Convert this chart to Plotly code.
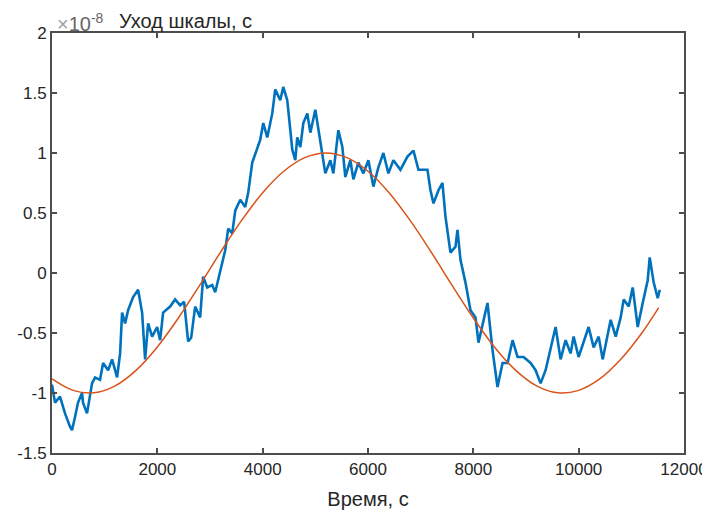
import plotly.graph_objects as go

# Blue measured series (time in s, value in units of 1e-8 s)
blue_t = [0, 57, 152, 247, 342, 380, 437, 494, 570, 589, 665, 722, 760, 817, 912, 970,
          1065, 1141, 1236, 1293, 1331, 1388, 1445, 1540, 1635, 1711, 1768, 1825, 1901,
          1996, 2053, 2110, 2243, 2338, 2433, 2509, 2585, 2642, 2718, 2813, 2870, 2946,
          3042, 3099, 3194, 3289, 3346, 3422, 3479, 3574, 3669, 3726, 3802, 3897, 3954,
          4011, 4087, 4182, 4239, 4334, 4391, 4467, 4524, 4562, 4619, 4657, 4715, 4772,
          4848, 4905, 5000, 5095, 5190, 5285, 5342, 5437, 5513, 5570, 5665, 5722, 5817,
          5912, 6007, 6102, 6197, 6292, 6387, 6482, 6616, 6749, 6863, 6958, 7053, 7129,
          7186, 7243, 7338, 7414, 7471, 7566, 7661, 7699, 7756, 7851, 7946, 8041, 8098,
          8174, 8269, 8364, 8459, 8555, 8650, 8745, 8840, 8954, 9087, 9182, 9277, 9372,
          9467, 9562, 9657, 9752, 9847, 9904, 9999, 10094, 10189, 10284, 10380, 10456,
          10551, 10608, 10703, 10798, 10855, 10950, 11026, 11121, 11216, 11311, 11349,
          11425, 11501, 11540]
blue_v = [-0.93, -1.08, -1.03, -1.17, -1.28, -1.31, -1.20, -1.08, -1.00, -1.08, -1.17,
          -1.03, -0.92, -0.87, -0.89, -0.75, -0.81, -0.72, -0.87, -0.67, -0.33, -0.42,
          -0.31, -0.20, -0.14, -0.33, -0.72, -0.42, -0.53, -0.45, -0.56, -0.33, -0.28,
          -0.22, -0.27, -0.24, -0.57, -0.54, -0.28, -0.37, -0.03, -0.12, -0.10, -0.16,
          0.02, 0.19, 0.37, 0.33, 0.52, 0.61, 0.55, 0.67, 0.92, 1.05, 1.11, 1.25, 1.13,
          1.33, 1.53, 1.44, 1.55, 1.44, 1.22, 1.03, 0.94, 1.13, 1.05, 1.25, 1.33, 1.17,
          1.36, 1.11, 0.83, 0.94, 0.83, 1.19, 1.05, 0.80, 0.94, 0.78, 0.92, 0.83, 0.94,
          0.72, 0.88, 1.00, 0.83, 0.94, 0.86, 0.97, 1.02, 0.86, 0.86, 0.86, 0.69, 0.58,
          0.69, 0.75, 0.47, 0.17, 0.22, 0.36, 0.11, -0.08, -0.31, -0.37, -0.58, -0.42,
          -0.25, -0.64, -0.95, -0.75, -0.75, -0.56, -0.70, -0.70, -0.75, -0.81, -0.92,
          -0.81, -0.64, -0.45, -0.72, -0.56, -0.67, -0.53, -0.70, -0.58, -0.45, -0.62,
          -0.53, -0.72, -0.50, -0.39, -0.53, -0.37, -0.22, -0.28, -0.12, -0.45, -0.25,
          -0.06, 0.13, -0.08, -0.21, -0.14]

# Orange model curve
orange_t = [0, 400, 800, 1200, 1600, 2000, 2400, 2800, 3200, 3600, 4000, 4400, 4800,
            5200, 5600, 6000, 6400, 6800, 7200, 7600, 8000, 8400, 8800, 9200, 9600,
            10000, 10400, 10800, 11200, 11520]
orange_v = [-0.883, -0.978, -0.998, -0.940, -0.809, -0.616, -0.375, -0.105, 0.174,
            0.438, 0.669, 0.848, 0.961, 1.0, 0.961, 0.848, 0.669, 0.438, 0.174, -0.105,
            -0.375, -0.616, -0.809, -0.940, -0.998, -0.978, -0.883, -0.719, -0.500,
            -0.289]

x_ticks = [0, 2000, 4000, 6000, 8000, 10000, 12000]
x_ticklabels = ["0", "2000", "4000", "6000", "8000", "10000", "12000"]
y_ticks = [-1.5, -1, -0.5, 0, 0.5, 1, 1.5, 2]
y_ticklabels = ["-1.5", "-1", "-0.5", "0", "0.5", "1", "1.5", "2"]

FONT = "Liberation Sans"
AX = "#262626"
LINE = "#4d4d4d"

fig = go.Figure()
fig.add_trace(go.Scatter(x=blue_t, y=blue_v, mode="lines",
                         line=dict(color="#0072BD", width=2.6), showlegend=False))
fig.add_trace(go.Scatter(x=orange_t, y=orange_v, mode="lines", line_shape="spline",
                         line=dict(color="#D95319", width=1.5), showlegend=False))

axis_common = dict(showline=True, linecolor=LINE, linewidth=2, mirror="ticks",
                   ticks="inside", ticklen=5, tickcolor=LINE, tickwidth=1.5,
                   showgrid=False, zeroline=False, automargin=False,
                   tickfont=dict(family=FONT, size=17, color=AX))

fig.update_xaxes(range=[0, 12000], tickvals=x_ticks, ticktext=x_ticklabels,
                 title=dict(text="Время, с", font=dict(family=FONT, size=20, color=AX),
                            standoff=16),
                 **axis_common)
fig.update_yaxes(range=[-1.5, 2], tickvals=y_ticks, ticktext=y_ticklabels,
                 **axis_common)

fig.add_annotation(text="<span style='color:#a0a0a0'>×</span>10<sup>-8</sup>",
                   xref="paper", yref="paper",
                   x=0.004, y=1.0, xanchor="left", yanchor="bottom", showarrow=False,
                   yshift=-4, font=dict(family=FONT, size=20, color="#666666"))
fig.add_annotation(text="Уход шкалы, с", xref="paper", yref="paper",
                   x=0.103, y=1.0, xanchor="left", yanchor="bottom", showarrow=False,
                   yshift=-1, font=dict(family=FONT, size=20, color=AX))

fig.update_layout(width=702, height=502, margin=dict(l=44, r=26, t=25, b=57),
                  paper_bgcolor="white", plot_bgcolor="white")

fig.write_html("out.html")
